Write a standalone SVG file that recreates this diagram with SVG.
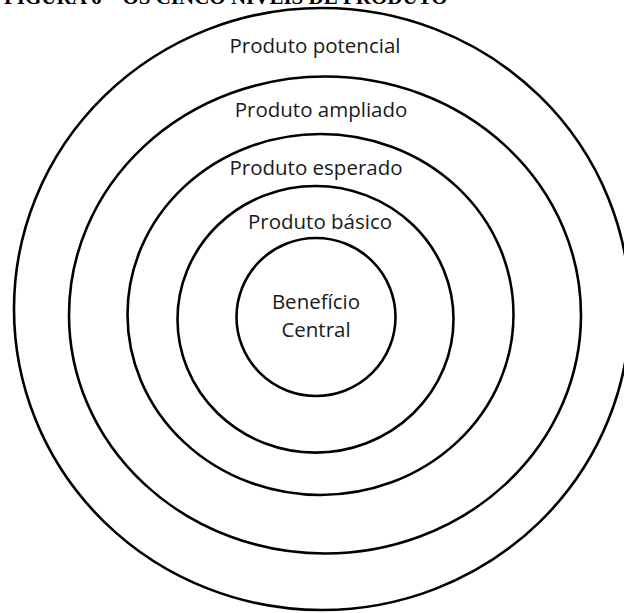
<svg xmlns="http://www.w3.org/2000/svg" width="624" height="613" viewBox="0 0 624 613">
  <style>
    .ring { fill: none; stroke: #000; stroke-width: 2.6; }
    .lbl { font-family: "Open Sans", "Noto Sans", sans-serif; font-size: 20.5px; fill: #1a1a1a; text-anchor: middle; }
    .title { font-family: "Liberation Serif", "Times New Roman", serif; font-weight: bold; font-size: 21px; fill: #000; }
  </style>
  <rect width="624" height="613" fill="#fff"/>

  <!-- figure caption, mostly above the top edge -->
  <text class="title" x="4" y="3.5">FIGURA 6 – OS CINCO NÍVEIS DE PRODUTO</text>

  <!-- five nested product levels, outermost first -->
  <g id="produto-potencial">
    <ellipse class="ring" cx="322" cy="309" rx="308" ry="301"/>
    <text class="lbl" x="315" y="53">Produto potencial</text>
  </g>
  <g id="produto-ampliado">
    <ellipse class="ring" cx="325" cy="315" rx="256" ry="238.5"/>
    <text class="lbl" x="321" y="117">Produto ampliado</text>
  </g>
  <g id="produto-esperado">
    <ellipse class="ring" cx="320.5" cy="314.5" rx="193" ry="180.5"/>
    <text class="lbl" x="316" y="175">Produto esperado</text>
  </g>
  <g id="produto-basico">
    <ellipse class="ring" cx="315.5" cy="319.3" rx="138" ry="133.3"/>
    <text class="lbl" x="320" y="229">Produto básico</text>
  </g>
  <g id="beneficio-central">
    <ellipse class="ring" cx="316" cy="317" rx="79.5" ry="79"/>
    <text class="lbl" x="316" y="309">Benefício</text>
    <text class="lbl" x="316" y="337">Central</text>
  </g>

  <g id="connectors"/>
</svg>
